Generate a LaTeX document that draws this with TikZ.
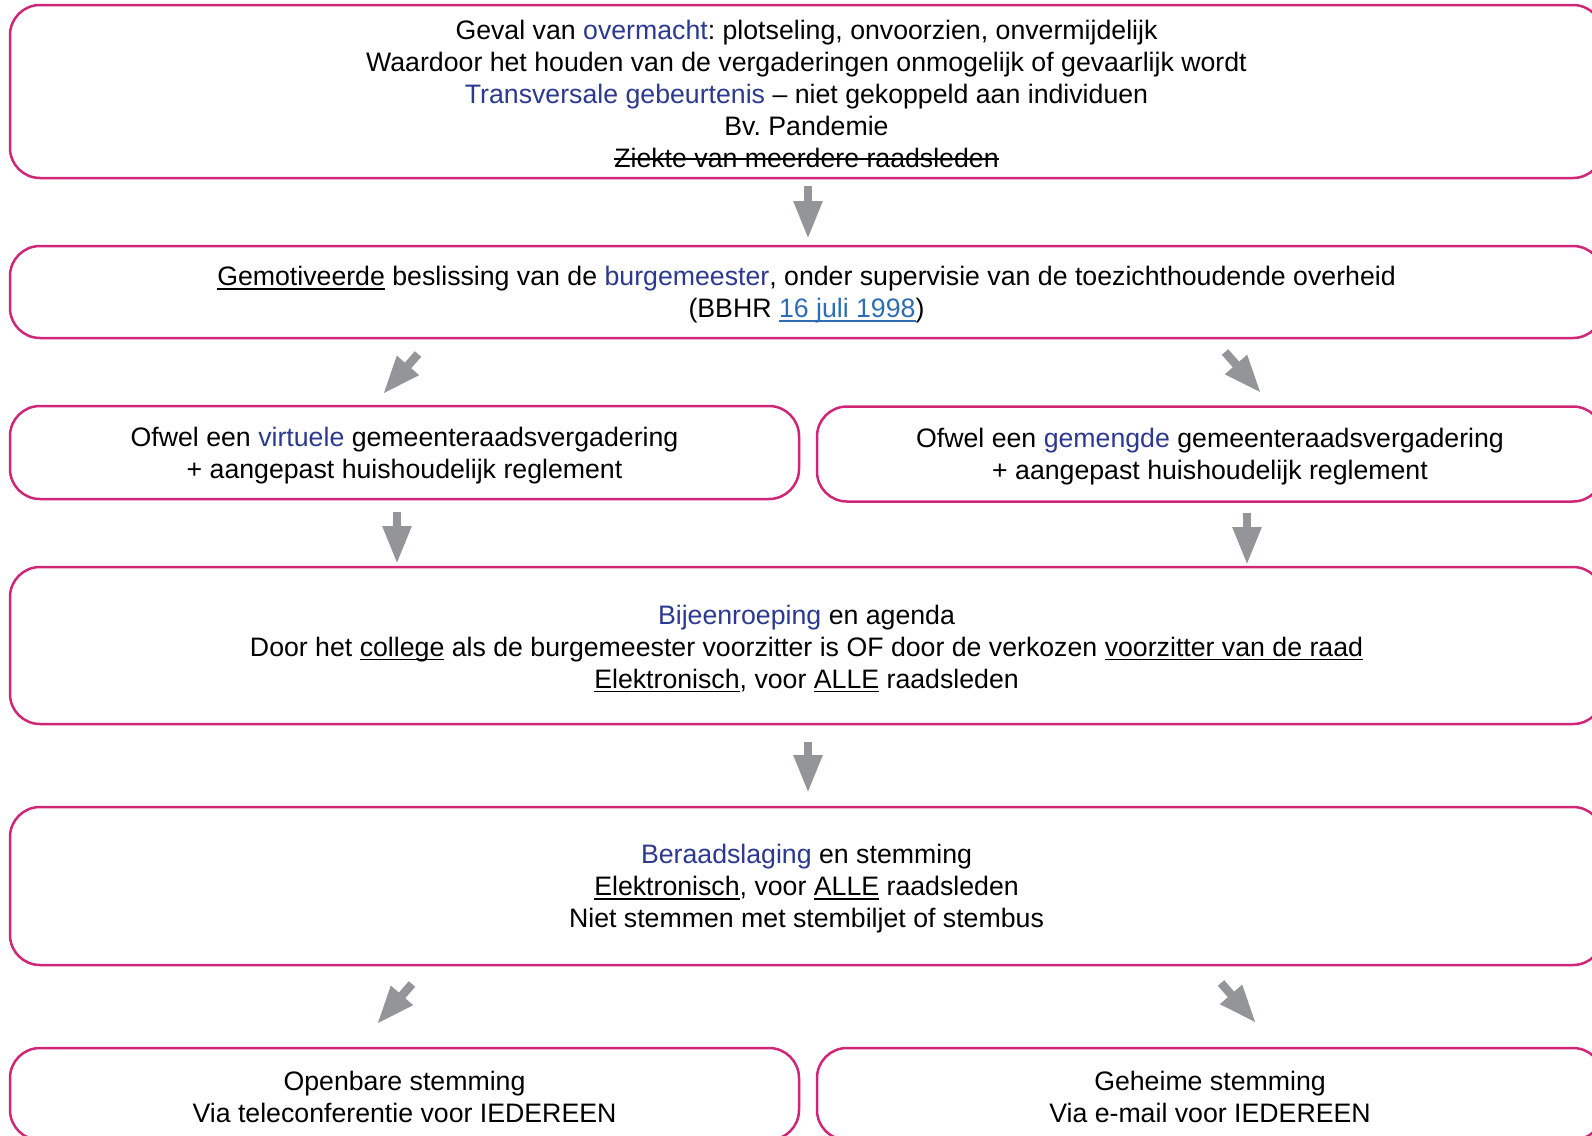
\documentclass[tikz,border=0pt]{standalone}
\usepackage{fontspec}
\setmainfont{Liberation Sans}
\usepackage{tikz}
\usetikzlibrary{arrows.meta}
\usepackage{xcolor}
\definecolor{rim}{RGB}{208,38,120}
\definecolor{term}{RGB}{43,57,144}
\definecolor{linkblue}{RGB}{46,109,180}
\definecolor{arrowgray}{RGB}{147,149,152}
\frenchspacing
\newsavebox{\linebox}
\newcommand{\ulword}[1]{\sbox{\linebox}{#1}\rlap{\rule[-4pt]{\wd\linebox}{1.4pt}}\usebox{\linebox}}
\newcommand{\strikeword}[1]{\sbox{\linebox}{#1}\rlap{\rule[8pt]{\wd\linebox}{1.4pt}}\usebox{\linebox}}
\newcommand{\toprow}{\rule{0pt}{25pt}}
\tikzset{%
    stepbox/.style={%
        draw=rim, line width=2.5pt, rounded corners=30pt,
        align=center, inner sep=0pt, fill=white,
        font=\fontsize{26.7}{32}\selectfont
    },
    flow/.style={%
        draw=arrowgray, line width=8.5pt,
        -{Triangle[length=38pt,width=27pt]}
    }
}

\begin{document}
\begin{tikzpicture}[x=1pt,y=-1pt]
%-----------------------------------------------
    \useasboundingbox (0,0) rectangle (1592,1135);
    \clip (0,0) rectangle (1592,1135);
%-----------------------------------------------
    \node[stepbox, minimum width=1593pt, minimum height=173pt] (cause) at (806.5,91.5)
        {\toprow Geval van {\color{term}overmacht}: plotseling, onvoorzien, onvermijdelijk\\
         Waardoor het houden van de vergaderingen onmogelijk of gevaarlijk wordt\\
         {\color{term}Transversale gebeurtenis} -- niet gekoppeld aan individuen\\
         Bv. Pandemie\\
         \strikeword{Ziekte van meerdere raadsleden}};
    \node[stepbox, minimum width=1593pt, minimum height=92pt] (decision) at (806.5,292)
        {\toprow\ulword{Gemotiveerde} beslissing van de {\color{term}burgemeester}, onder supervisie van de toezichthoudende overheid\\
         (BBHR {\color{linkblue}\ulword{16 juli 1998}})};
    \node[stepbox, minimum width=789pt, minimum height=93pt] (virtual) at (404.5,452.5)
        {\toprow Ofwel een {\color{term}virtuele} gemeenteraadsvergadering\\
         + aangepast huishoudelijk reglement};
    \node[stepbox, minimum width=786pt, minimum height=95pt] (mixed) at (1210,454)
        {\toprow Ofwel een {\color{term}gemengde} gemeenteraadsvergadering\\
         + aangepast huishoudelijk reglement};
    \node[stepbox, minimum width=1593pt, minimum height=157pt] (convene) at (806.5,645.5)
        {\toprow{\color{term}Bijeenroeping} en agenda\\
         Door het \ulword{college} als de burgemeester voorzitter is OF door de verkozen \ulword{voorzitter van de raad}\\
         \ulword{Elektronisch}, voor \ulword{ALLE} raadsleden};
    \node[stepbox, minimum width=1593pt, minimum height=158pt] (debate) at (806.5,886)
        {\toprow{\color{term}Beraadslaging} en stemming\\
         \ulword{Elektronisch}, voor \ulword{ALLE} raadsleden\\
         Niet stemmen met stembiljet of stembus};
    \node[stepbox, minimum width=789pt, minimum height=92pt] (public) at (404.5,1094)
        {\toprow Openbare stemming\\
         Via teleconferentie voor IEDEREEN};
    \node[stepbox, minimum width=786pt, minimum height=92pt] (secret) at (1210,1094)
        {\toprow Geheime stemming\\
         Via e-mail voor IEDEREEN};
%-----------------------------------------------
    \coordinate (c1a) at (808,186);   \coordinate (c1b) at (808,239);
    \coordinate (c2a) at (418,354);   \coordinate (c2b) at (383,394);
    \coordinate (c3a) at (1225,352);  \coordinate (c3b) at (1261,393);
    \coordinate (c4a) at (397,512);   \coordinate (c4b) at (397,564);
    \coordinate (c5a) at (1247,513);  \coordinate (c5b) at (1247,565);
    \coordinate (c6a) at (808,742);   \coordinate (c6b) at (808,793);
    \coordinate (c7a) at (412,984);   \coordinate (c7b) at (377,1024);
    \coordinate (c8a) at (1221,983);  \coordinate (c8b) at (1256,1023);
%-----------------------------------------------
    \draw[flow] (c1a)--(c1b);
    \draw[flow] (c2a)--(c2b);
    \draw[flow] (c3a)--(c3b);
    \draw[flow] (c4a)--(c4b);
    \draw[flow] (c5a)--(c5b);
    \draw[flow] (c6a)--(c6b);
    \draw[flow] (c7a)--(c7b);
    \draw[flow] (c8a)--(c8b);
\end{tikzpicture}
\end{document}
